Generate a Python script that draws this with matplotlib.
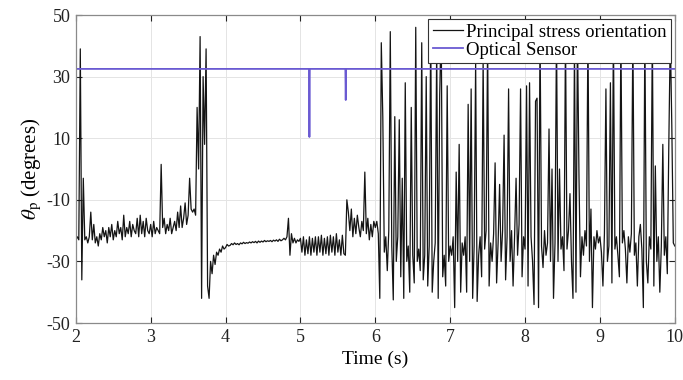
import numpy as np
import matplotlib
matplotlib.use("Agg")
import matplotlib.pyplot as plt

# principal stress orientation, one value every 0.02 s from t = 2 s
theta_p = [
    -23, -22, -23, 39, -36, -3, -23, -22, -24, -22,
    -14, -23, -18, -24, -22, -25, -21, -23, -19, -22,
    -20, -24, -19, -22, -18, -23, -20, -22, -17, -21,
    -19, -23, -15, -22, -19, -21, -17, -22, -18, -20,
    -21, -16, -22, -15, -21, -17, -22, -16, -20, -21,
    -18, -22, -17, -21, -19, -20, -21, 1.5, -19, -16,
    -21, -18, -20, -16, -21, -19, -17, -20, -14, -19,
    -12, -19, -16, -11, -18, -15, -3, -13, -14, -13,
    -15, 20, 0, 43, -42, 30, 8, 39, -38, -42,
    -30, -34, -28, -31, -27, -28, -26, -27, -25, -26,
    -25.5, -24.5, -25, -24.8, -24.2, -24.6, -24, -24.5, -24.2, -24.6,
    -24, -24.3, -23.8, -24.2, -23.9, -24.1, -23.7, -24, -23.6, -23.9,
    -23.5, -24, -23.4, -23.8, -23.4, -23.7, -23.2, -23.6, -23.3, -23.5,
    -23.2, -23.6, -23.1, -23.4, -23, -23.5, -22.8, -23.3, -23, -22.5,
    -23, -22, -16, -28, -21, -24, -22.5, -24, -23, -23.5,
    -22.5, -27, -22, -28, -23, -27.5, -22, -28, -22.5, -27,
    -22, -28, -22, -27, -21.5, -28, -22.5, -27.5, -22, -28,
    -21.5, -27, -22, -28, -21, -27, -23, -28, -21.5, -27.5,
    -28, -10, -14, -20, -13, -22, -16, -21, -15, -19,
    -22, -17, -20, -1, -21, -16, -23, -18, -22, -17,
    -19, -17, -21, -42, 41, 17, -27, -22, -33, -20,
    44.6, -25, -42.5, 17, -30, -22, 16, -35, -3, -42,
    28, -30, -25, -40, 20, -28, -37, 46, -30, -26,
    -33, 41, -36, -28, 30, -38, -25, 46, -40, -30,
    -24, 40, -42, 24, 47, -35, -28, -38, 27, -30,
    -25, -28, -22, -45, -1, -30, 8, -40, -24, -28,
    -22, -40, 21, -30, 26, -42, -25, 35, -43, -28,
    -22, -35, 36, -26, -20, 42, -38, -24, -30, -21,
    2, -37, -24, -5, -30, -20, 11, -36, -22, 26,
    -30, -20, -38, -22, -3, -28, -18, 26, -35, -22,
    -26, 27, -38, 28, -22, -30, -44, 22, 23, -45,
    45, -25, -32, -20, -28, -24, 13, -30, 0, -42,
    -24, 45, -30, 0, -26, -22, -33, 44, -26, -20,
    -8, -30, -42, 40, -40, 45, -2, -35, -22, -28,
    -20, -25, 45, -30, -13, -45, -22, -26, -20, -24,
    -22, -27, -38, -21, 26, -30, -25, 28, -37, 45,
    -26, -22, -28, -35, 45, -24, -20, -26, -37, -22,
    -27, -21, 45, -28, -24, -38, -22, -18, -26, -45,
    45, -30, -37, -22, -26, 45, -38, 1, -30, -22,
    -40, -25, 8, -28, -22, -34, 8, 44, 14, -24,
    -25,
]
t_start = 2.0
t_step = 0.02

# optical sensor reading, flat with two short drops
optical_time = [2.0, 5.115, 5.12, 5.125, 5.60, 5.605, 5.61, 10.0]
optical_theta = [32.5, 32.5, 10.4, 32.5, 32.5, 22.4, 32.5, 32.5]

x_ticks = [2, 3, 4, 5, 6, 7, 8, 9, 10]
y_ticks = [-50, -30, -10, 10, 30, 50]

plt.rcParams['font.family'] = ['Liberation Serif', 'DejaVu Serif']
plt.rcParams['mathtext.fontset'] = 'stix'
plt.rcParams['axes.unicode_minus'] = False

time = t_start + t_step * np.arange(len(theta_p))

fig = plt.figure(figsize=(6.83, 3.80), dpi=100)
ax = fig.add_axes([0.111, 0.15, 0.877, 0.8105])

ax.plot(time, theta_p, color='#141414', lw=0.9, label='Principal stress orientation')
ax.plot(optical_time, optical_theta, color='#6a5ad2', lw=1.3, label='Optical Sensor')

ax.set_xlim(2, 10)
ax.set_ylim(-50, 50)
ax.set_xticks(x_ticks)
ax.set_yticks(y_ticks)
ax.grid(True, color='#e4e4e4', lw=0.7)
ax.set_axisbelow(True)
ax.tick_params(direction='in', top=True, right=True, length=4, labelsize=13,
               colors='#222222', pad=4)
for s in ax.spines.values():
    s.set_color('#8a8a8a')
    s.set_linewidth(0.9)

ax.set_xlabel('Time (s)', fontsize=14, labelpad=4)
ax.set_ylabel(r'$\theta_{\rm p}$ (degrees)', fontsize=15, labelpad=2)

leg = ax.legend(loc='upper right', fontsize=13.5, handlelength=1.6, handletextpad=0.15,
                borderpad=0.25, labelspacing=0.05, borderaxespad=0.2, fancybox=False,
                framealpha=1, edgecolor='#333333')
leg.get_frame().set_linewidth(0.8)

fig.savefig('out.png', dpi=100)
